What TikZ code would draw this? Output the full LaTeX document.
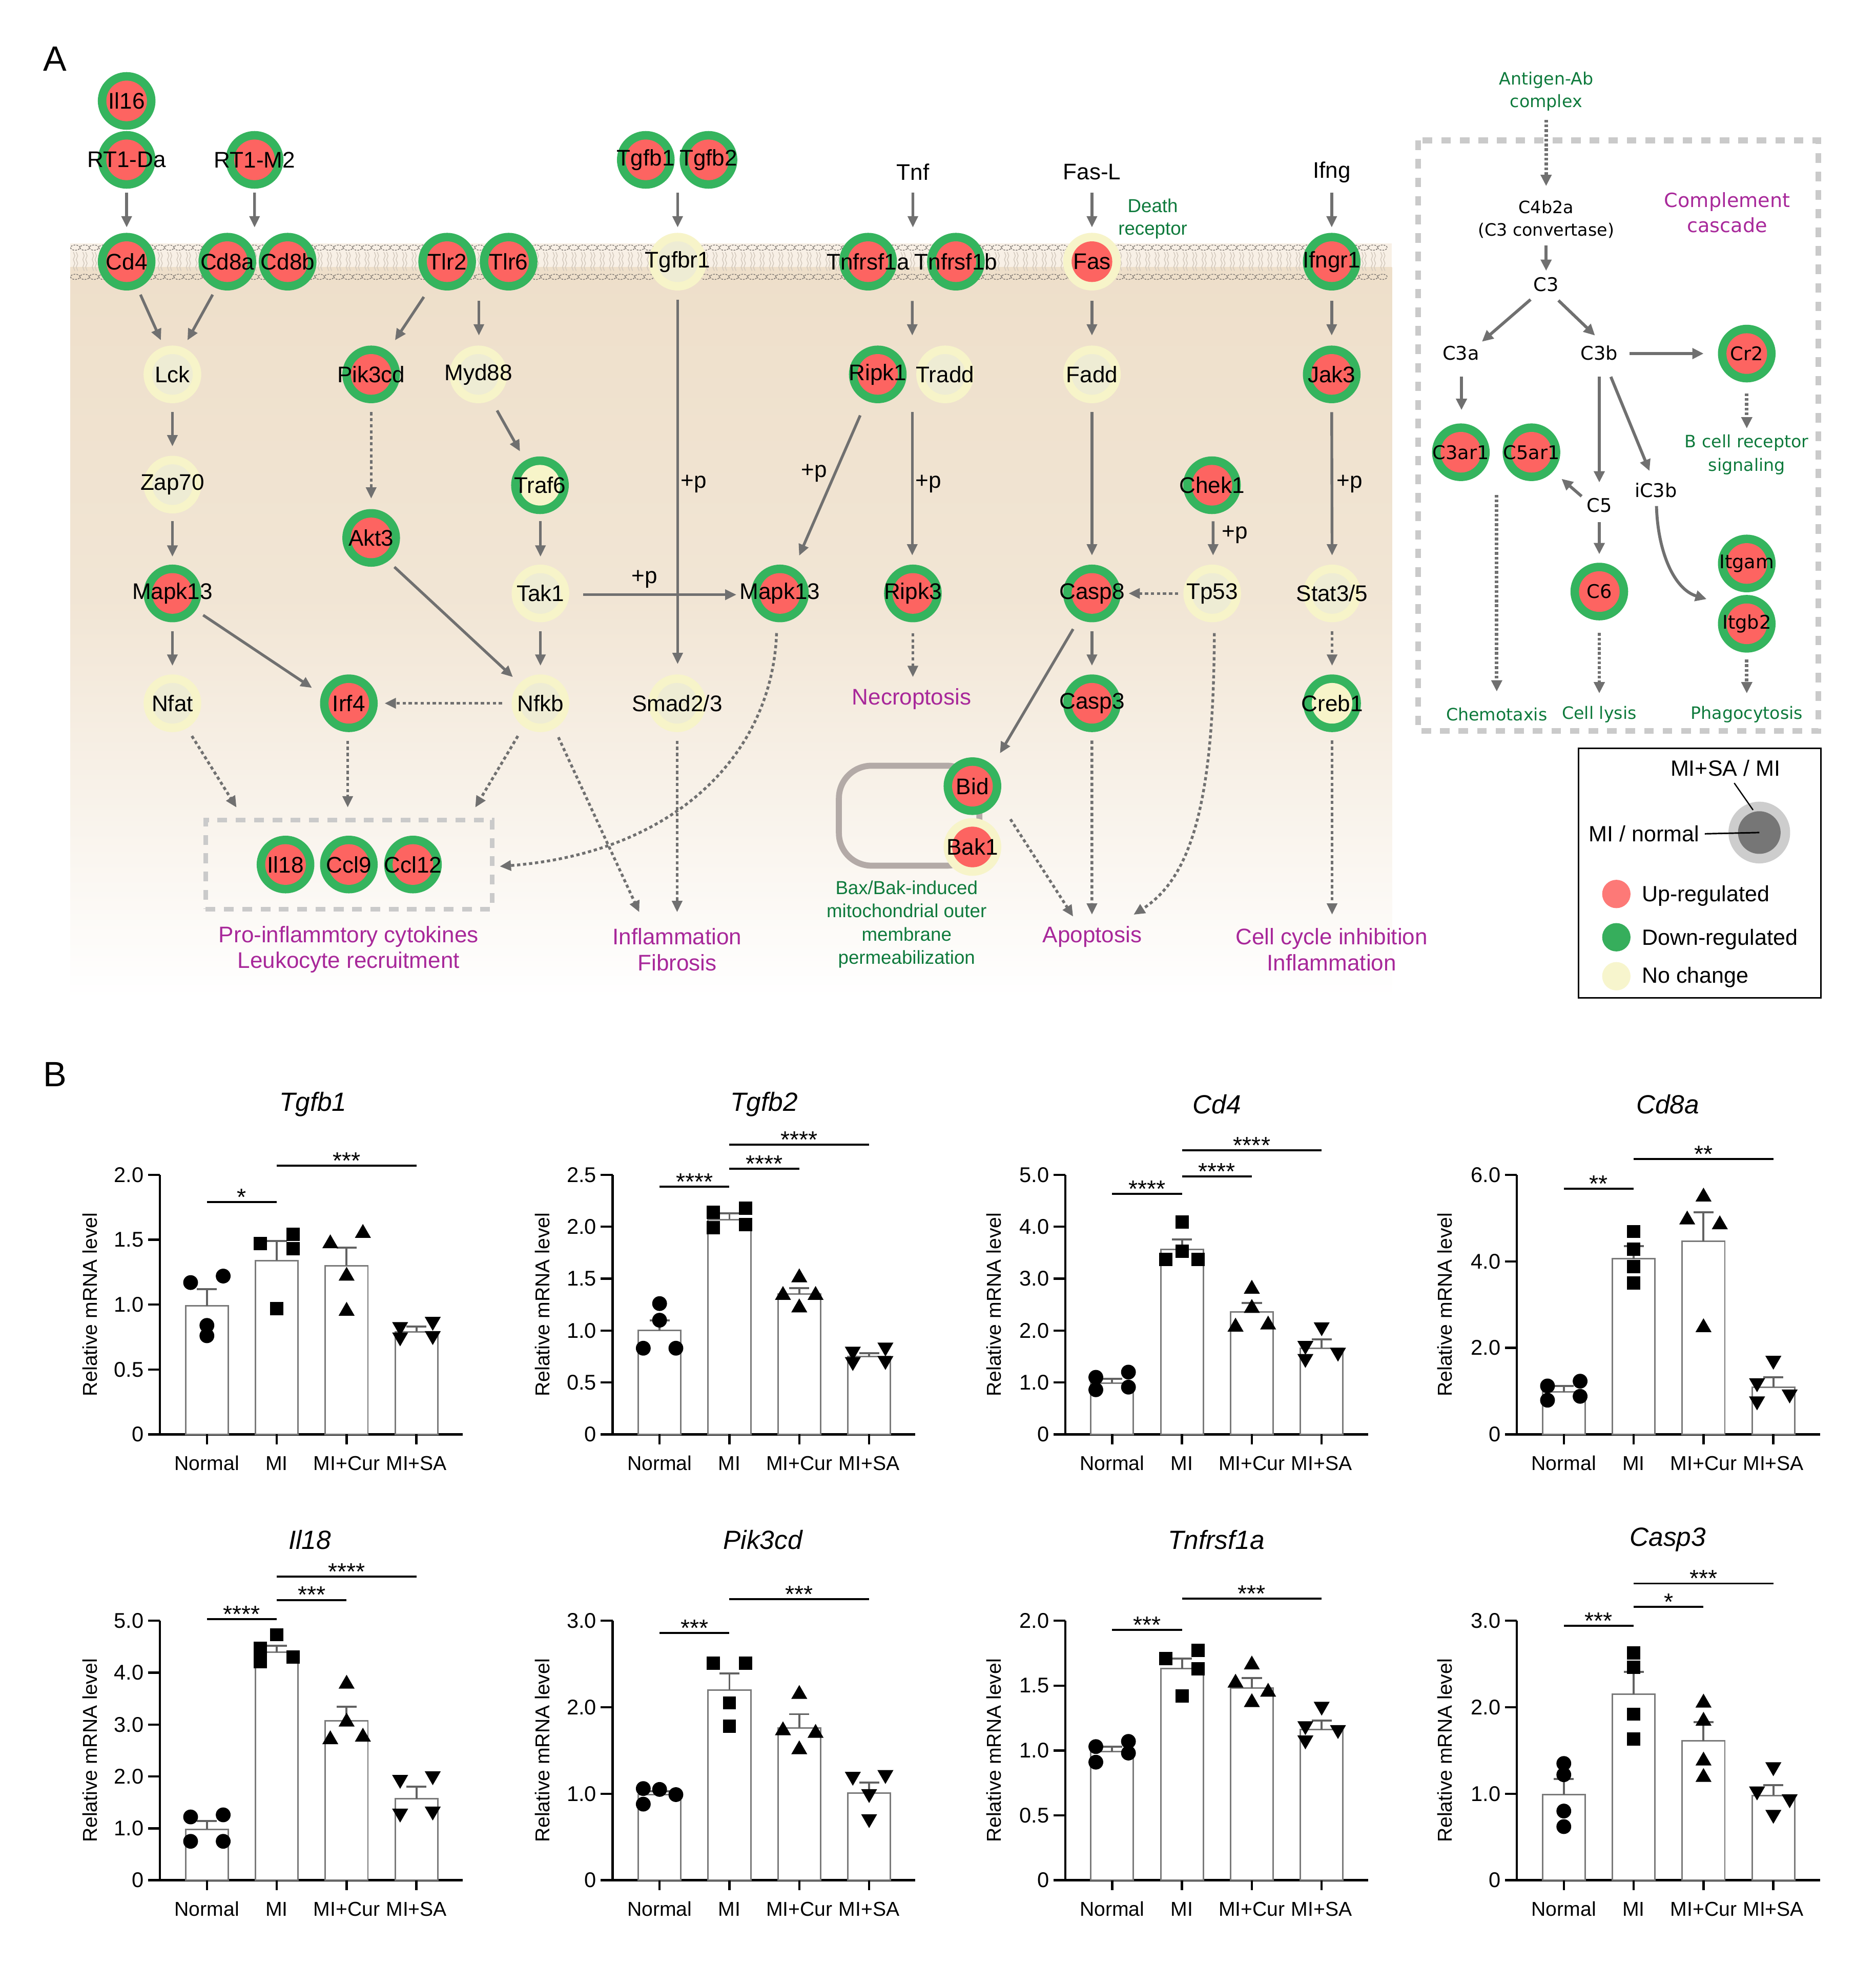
\documentclass[tikz,border=0pt]{standalone}
\usepackage{fontspec}
\setmainfont{Liberation Sans}
\newfontfamily\cfont{DejaVu Sans}
\usetikzlibrary{arrows.meta}

\definecolor{gRed}{HTML}{FD6461}
\definecolor{gGreen}{HTML}{35B45E}
\definecolor{gYel}{HTML}{F7F4C9}
\definecolor{gYelIn}{HTML}{EEECD4}
\definecolor{arrGray}{HTML}{707070}
\definecolor{magT}{HTML}{A8289A}
\definecolor{grnT}{HTML}{0E7A3C}
\definecolor{beige}{HTML}{EEDFCA}
\definecolor{memb}{HTML}{F8F0E6}
\definecolor{lipid}{HTML}{7E7873}
\definecolor{tailc}{HTML}{D3C9BD}
\definecolor{boxGray}{HTML}{CACACA}
\definecolor{mito}{HTML}{B3AAA7}
\definecolor{legRed}{HTML}{FD7977}
\definecolor{legGreen}{HTML}{36AE5C}
\definecolor{legYel}{HTML}{F7F5CD}
\definecolor{legOut}{HTML}{CDCDCD}
\definecolor{legIn}{HTML}{767676}
\definecolor{barGray}{HTML}{7A7A7A}

\newcommand\gtxt[1]{\makebox[0pt]{#1}}
\newcommand\conn[5]{\draw[#1] ([shift={(#3)}]#2.center) -- ([shift={(#5)}]#4.center);}

% chart helpers
\newcommand\chartax[6]{%
  \draw[axisln] (0,0) -- (0,#2);
  \draw[axisln] (0,0) -- (#4,0);
  \foreach \v/\lab [count=\i] in {#3}{%
    \draw[axisln] (-9.5,\v) -- (0,\v);
    \node[ticklab,anchor=east] (#1t\i) at (-#6,\v) {\lab};}
  \node[ylab,rotate=90] (#1y) at (-#5,#2/2) {Relative mRNA level};
}
\newcommand\xcats[5]{%
  \foreach \cx/\tx [count=\i] in {#2/Normal,#3/MI,#4/MI+Cur,#5/MI+SA}{%
    \draw[axisln] (\cx,0) -- ++(0pt,-4pt);
    \node[xlab, yshift=-11.5pt] (#1x\i) at (\cx,0) {\tx};}
}
\newcommand\sig[5]{\draw[sigln] (#2,#4) -- (#3,#4) node[midway, above=-2.2pt, siglab] (#1) {#5};}
\newcommand\bbar[3]{\draw[barln] ({#1-17},0) rectangle ({#1+17},#2);
  \draw[errln] (#1,#2) -- (#1,#3) ({#1-8},#3) -- ({#1+8},#3);}
\newcommand\mC[2]{\fill ({#1},#2) circle (2.95pt);}
\newcommand\mS[2]{\fill ({#1},#2) ++(-2.65pt,-2.65pt) rectangle ++(5.3pt,5.3pt);}
\newcommand\mU[2]{\fill ({#1},#2) ++(0pt,3.7pt) -- ++(-3.2pt,-5.54pt) -- ++(6.4pt,0pt) -- cycle;}
\newcommand\mD[2]{\fill ({#1},#2) ++(0pt,-3.7pt) -- ++(-3.2pt,5.54pt) -- ++(6.4pt,0pt) -- cycle;}
\newcommand\pts[3]{\foreach \dx/\vv in {#3}{#1{#2+(\dx)}{\vv}}}

\begin{document}
\begin{tikzpicture}[x=0.5pt, y=-0.5pt,
  gene/.style 2 args={circle, minimum size=23pt, inner sep=0pt, fill=#2,
    path picture={\fill[#1] (path picture bounding box.center) circle (8.1pt);},
    font=\fontsize{9}{10}\selectfont},
  ru/.style={gene={gRed}{gGreen}},
  ny/.style={gene={gYelIn}{gYel}},
  yg/.style={gene={gYel}{gGreen}},
  ry/.style={gene={gRed}{gYel}},
  cg/.style={ru, font=\cfont\fontsize{7.5}{9}\selectfont},
  arr/.style={draw=arrGray, line width=1.1pt, -{Triangle[length=4.5pt,width=4pt]}},
  darr/.style={arr, dash pattern=on 1.3pt off 1.1pt},
  carr/.style={draw=arrGray, line width=1.2pt, -{Triangle[length=4.5pt,width=4.2pt]}},
  cdarr/.style={carr, line width=1.4pt, dash pattern=on 1.1pt off 0.8pt},
  txt/.style={font=\fontsize{9}{10}\selectfont, inner sep=0pt},
  outc/.style={font=\fontsize{9}{10.3}\selectfont, text=magT, align=center, inner sep=0pt},
  gnote/.style={font=\fontsize{7.5}{9.2}\selectfont, text=grnT, align=center, inner sep=0pt},
  ctxt/.style={font=\cfont\fontsize{6.8}{9.1}\selectfont, align=center, inner sep=0pt},
  cnode/.style={font=\cfont\fontsize{7.5}{9}\selectfont, inner sep=0pt},
  legt/.style={font=\fontsize{8.8}{10}\selectfont, inner sep=0pt},
  axisln/.style={draw=black, line width=0.9pt},
  barln/.style={draw=barGray, line width=0.6pt, fill=white},
  errln/.style={draw=barGray!80!black, line width=0.8pt},
  sigln/.style={draw=black, line width=0.8pt},
  siglab/.style={font=\fontsize{9.5}{10}\selectfont, inner sep=0.5pt},
  ticklab/.style={font=\fontsize{8.5}{10}\selectfont, inner sep=0pt},
  xlab/.style={font=\fontsize{8}{10}\selectfont, inner sep=0pt},
  ylab/.style={font=\fontsize{8}{10}\selectfont, inner sep=0pt},
  ctitle/.style={font=\fontsize{10.5}{12}\selectfont\itshape, inner sep=0pt},
  panel/.style={font=\fontsize{14}{16}\selectfont, inner sep=0pt}
]
\useasboundingbox (0,0) rectangle (1496,1568);
\fill[white] (0,0) rectangle (1496,1568);

% ---------------- Panel A background -----------------
\fill[memb] (56,194) rectangle (1110,213);
\shade[top color=beige, bottom color=beige!80!white] (56,213) rectangle (1110,480);
\shade[top color=beige!80!white, bottom color=white] (56,480) rectangle (1110,797);
\foreach \x in {60,67.5,...,1107}{
  \draw[tailc, line width=0.3pt] ({\x-1.5},201) -- ({\x-0.3},204) -- ({\x-1.5},207) -- ({\x-0.3},210) -- ({\x-1.5},213) -- ({\x-0.3},216);
  \draw[tailc, line width=0.3pt] ({\x+0.8},201) -- ({\x+2},204) -- ({\x+0.8},207) -- ({\x+2},210) -- ({\x+0.8},213) -- ({\x+2},216);
  \draw[lipid, line width=0.3pt, dash pattern=on 0.7pt off 0.45pt] (\x,197.5) ellipse (1.85pt and 1.05pt);
  \draw[lipid, line width=0.3pt, dash pattern=on 0.7pt off 0.45pt] (\x,220.8) ellipse (1.85pt and 1.05pt);
}

\node[panel] (lblA) at (44,47) {A};
\node[panel] (lblB) at (44,857) {B};

% mitochondrion
\draw[mito, line width=2.4pt, rounded corners=13pt] (669,610.7) rectangle (781,690.4);
% cytokine box
\node[draw=boxGray, line width=1.8pt, dash pattern=on 3.9pt off 3.4pt, minimum width=114.3pt, minimum height=35.5pt, inner sep=0pt] (cytobox) at (278.3,689.5) {};

% ---------------- genes -----------------
\node[ru] (il16) at (101,80.5) {\gtxt{Il16}};
\node[ru] (rt1da) at (101,127.5) {\gtxt{RT1-Da}};
\node[ru] (rt1m2) at (203,127.5) {\gtxt{RT1-M2}};
\node[ru] (tgfb1) at (515,127.5) {\gtxt{Tgfb1}};
\node[ru] (tgfb2) at (565,127.5) {\gtxt{Tgfb2}};
\node[txt] (tnf) at (728,137.3) {Tnf};
\node[txt] (fasl) at (870.8,137.3) {Fas-L};
\node[txt] (ifng) at (1062,137.3) {Ifng};
\node[gnote, font=\fontsize{7.5}{9.1}\selectfont] (death) at (919.3,174.5) {Death\\receptor};

\node[ru] (cd4) at (101,208.7) {\gtxt{Cd4}};
\node[ru] (cd8a) at (181.3,208.7) {\gtxt{Cd8a}};
\node[ru] (cd8b) at (229.4,208.7) {\gtxt{Cd8b}};
\node[ru] (tlr2) at (356.6,208.7) {\gtxt{Tlr2}};
\node[ru] (tlr6) at (405.6,208.7) {\gtxt{Tlr6}};
\node[ny] (tgfbr1) at (540.4,208.7) {\gtxt{Tgfbr1}};
\node[ru] (tnfrsf1a) at (692.3,208.7) {\gtxt{Tnfrsf1a}};
\node[ru] (tnfrsf1b) at (762.3,208.7) {\gtxt{Tnfrsf1b}};
\node[ry] (fas) at (870.8,208.7) {\gtxt{Fas}};
\node[ru] (ifngr1) at (1062,208.7) {\gtxt{Ifngr1}};

\node[ny] (lck) at (137.5,298.6) {\gtxt{Lck}};
\node[ru] (pik3cd) at (296,298.6) {\gtxt{Pik3cd}};
\node[ny] (myd88) at (381.5,298.6) {\gtxt{Myd88}};
\node[ru] (ripk1) at (700,298.6) {\gtxt{Ripk1}};
\node[ny] (tradd) at (753.7,298.6) {\gtxt{Tradd}};
\node[ny] (fadd) at (870.8,298.6) {\gtxt{Fadd}};
\node[ru] (jak3) at (1062,298.6) {\gtxt{Jak3}};

\node[ny] (zap70) at (137.5,386.5) {\gtxt{Zap70}};
\node[yg] (traf6) at (430.6,387) {\gtxt{Traf6}};
\node[ru] (chek1) at (966.5,387) {\gtxt{Chek1}};
\node[ru] (akt3) at (296,429) {\gtxt{Akt3}};

\node[ru] (mapk13a) at (137.5,473.3) {\gtxt{Mapk13}};
\node[ny] (tak1) at (431,473.3) {\gtxt{Tak1}};
\node[ru] (mapk13b) at (622,473.3) {\gtxt{Mapk13}};
\node[ru] (ripk3) at (728,473.3) {\gtxt{Ripk3}};
\node[ru] (casp8) at (870.8,473.3) {\gtxt{Casp8}};
\node[ny] (tp53) at (966.7,473.3) {\gtxt{Tp53}};
\node[ny] (stat35) at (1062.3,473.3) {\gtxt{Stat3/5}};

\node[ny] (nfat) at (137.5,560.9) {\gtxt{Nfat}};
\node[ru] (irf4) at (278.2,560.9) {\gtxt{Irf4}};
\node[ny] (nfkb) at (431,560.9) {\gtxt{Nfkb}};
\node[ny] (smad) at (540,560.9) {\gtxt{Smad2/3}};
\node[ru] (casp3) at (870.8,560.9) {\gtxt{Casp3}};
\node[yg] (creb1) at (1062.3,560.9) {\gtxt{Creb1}};

\node[ru] (il18) at (227.7,689.5) {\gtxt{Il18}};
\node[ru] (ccl9) at (278.2,689.5) {\gtxt{Ccl9}};
\node[ru] (ccl12) at (329.3,689.5) {\gtxt{Ccl12}};
\node[ru] (bid) at (775.5,627) {\gtxt{Bid}};
\node[ry] (bak1) at (775.5,675.5) {\gtxt{Bak1}};

\node[outc] (proinf) at (278,757.3) {Pro-inflammtory cytokines\\Leukocyte recruitment};
\node[outc] (inflam) at (540,757.3) {Inflammation\\Fibrosis};
\node[outc] (necro) at (727,557.5) {Necroptosis};
\node[outc] (apop) at (871,747) {Apoptosis};
\node[outc] (cellcyc) at (1062,757.3) {Cell cycle inhibition\\Inflammation};
\node[gnote, font=\fontsize{7.5}{9.25}\selectfont] (baxtxt) at (723,737.2) {Bax/Bak-induced\\mitochondrial outer\\membrane\\permeabilization};

% +p labels
\node[txt] (p1) at (514,462) {+p};
\node[txt] (p2) at (553.3,386) {+p};
\node[txt] (p3) at (649.3,377.5) {+p};
\node[txt] (p4) at (740.5,386) {+p};
\node[txt] (p5) at (1076.3,386) {+p};
\node[txt] (p6) at (984.7,426.4) {+p};

% ---------------- connectors panel A -----------------
\conn{arr}{rt1da}{0,26.1}{cd4}{0,-27.3}
\conn{arr}{rt1m2}{0,26.1}{cd8a}{21.7,-27.3}
\conn{arr}{tgfb1}{25.4,26.1}{tgfbr1}{0,-27.3}
\conn{arr}{tnf}{0,16.3}{tnfrsf1a}{35.7,-27.3}
\conn{arr}{fasl}{0,16.3}{fas}{0,-27.3}
\conn{arr}{ifng}{0,16.3}{ifngr1}{0,-27.3}
\conn{arr}{cd4}{11,26.3}{lck}{-9.2,-27.2}
\conn{arr}{cd8a}{-11.7,26.3}{lck}{12,-27.2}
\conn{arr}{tlr2}{-18.6,28.1}{pik3cd}{19,-27.2}
\conn{arr}{tlr2}{25.3,31.3}{myd88}{0.4,-31}
\conn{arr}{lck}{0,30.1}{zap70}{0,-30.5}
\conn{darr}{pik3cd}{0,30.1}{akt3}{0,-31.3}
\conn{arr}{myd88}{14.9,28.8}{traf6}{-15.9,-27}
\conn{arr}{zap70}{0,29.3}{mapk13a}{0,-29.3}
\conn{arr}{traf6}{0.4,28.8}{tak1}{0,-29.3}
\conn{arr}{chek1}{0.9,28.8}{tp53}{0.7,-30.3}
\conn{arr}{akt3}{18.5,23.2}{nfkb}{-22,-20.9}
\conn{arr}{mapk13a}{24.5,17.3}{irf4}{-29.4,-12.3}
\conn{arr}{mapk13a}{0,30.3}{nfat}{0,-29.9}
\conn{arr}{tak1}{0,30.3}{nfkb}{0,-29.9}
\conn{arr}{tak1}{34,1}{mapk13b}{-34.7,1}
\conn{arr}{tgfbr1}{0,30.2}{smad}{0.4,-31.2}
\conn{arr}{ripk1}{-14,32.7}{mapk13b}{15.3,-30.1}
\conn{arr}{tnfrsf1a}{35.2,31.3}{ripk1}{27.5,-31}
\conn{arr}{tradd}{-26.2,30.1}{ripk3}{-0.5,-30.3}
\conn{arr}{fas}{0,31.3}{fadd}{0,-31}
\conn{arr}{fadd}{0,30.1}{casp8}{0,-30.3}
\conn{arr}{ifngr1}{0,31.3}{jak3}{0,-31}
\conn{arr}{jak3}{0,30.1}{stat35}{0,-30.3}
\conn{arr}{casp8}{0,30.3}{casp3}{0,-29.9}
\conn{arr}{casp8}{-15,28.4}{bid}{21.9,-26.2}
\conn{darr}{tp53}{-27.1,0}{casp8}{29.2,0}
\conn{darr}{stat35}{0,30.3}{creb1}{0,-29.9}
\conn{darr}{ripk3}{0,31.7}{necro}{1,-17.5}
\conn{darr}{nfkb}{-30.6,0}{irf4}{28.5,0}
\conn{darr}{nfat}{15.5,26.1}{cytobox}{-89.7,-45.5}
\conn{darr}{irf4}{-0.9,29.9}{cytobox}{-1,-45.5}
\conn{darr}{nfkb}{-18,26.1}{cytobox}{100.7,-45.5}
\conn{darr}{nfkb}{14.3,27.1}{inflam}{-30.2,-29.8}
\conn{darr}{smad}{0,29.9}{inflam}{0,-29.8}
\draw[darr] ([shift={(-2.7,31.6)}]mapk13b.center) .. controls (616,600) and (540,680) .. ([shift={(120.2,1.5)}]cytobox.center);
\conn{darr}{casp3}{0,29.8}{apop}{-0.2,-17.5}
\conn{darr}{bid}{30.3,26.4}{apop}{-15.2,-16}
\draw[darr] ([shift={(1.7,31.6)}]tp53.center) .. controls (968,640) and (950,700) .. ([shift={(33,-17.5)}]apop.center);
\conn{darr}{creb1}{0,29.8}{cellcyc}{0.3,-27.8}

% ---------------- complement cascade -----------------
\draw[boxGray, line width=2.3pt, dash pattern=on 3.8pt off 3.6pt] (1131,112) rectangle (1450,583);
\node[ctxt, text=grnT] (antigen) at (1233,72.9) {Antigen-Ab\\complex};
\node[ctxt] (c4b2a) at (1233,175) {C4b2a\\(C3 convertase)};
\node[cnode] (c3) at (1233,226.9) {C3};
\node[ctxt, text=magT, font=\cfont\fontsize{7.8}{10.1}\selectfont] (compl) at (1377.4,169.4) {Complement\\cascade};
\node[cnode] (c3a) at (1165,281.5) {C3a};
\node[cnode] (c3b) at (1275.4,281.5) {C3b};
\node[cg] (cr2) at (1393,282) {\gtxt{Cr2}};
\node[ctxt, text=grnT, font=\cfont\fontsize{6.8}{9.3}\selectfont] (bcr) at (1393,362.7) {B cell receptor\\signaling};
\node[cg] (c3ar1) at (1165,360.7) {\gtxt{C3ar1}};
\node[cg] (c5ar1) at (1221.3,360.7) {\gtxt{C5ar1}};
\node[cnode] (ic3b) at (1320.5,391) {iC3b};
\node[cnode] (c5) at (1275.4,403) {C5};
\node[cg] (c6) at (1275.4,471.8) {\gtxt{C6}};
\node[cg] (itgam) at (1393,449.4) {\gtxt{Itgam}};
\node[cg] (itgb2) at (1393,497.5) {\gtxt{Itgb2}};
\node[ctxt, text=grnT] (chemo) at (1193.6,569.7) {Chemotaxis};
\node[ctxt, text=grnT] (lysis) at (1275.4,569.7) {Cell lysis};
\node[ctxt, text=grnT] (phago) at (1393,569.7) {Phagocytosis};

\conn{cdarr}{antigen}{0,22.6}{c4b2a}{0,-26.6}
\conn{carr}{c4b2a}{0,20.9}{c3}{0,-10.9}
\conn{carr}{c3}{-12.4,12}{c3a}{16.8,-9}
\conn{carr}{c3}{9.8,12.7}{c3b}{-3.4,-13.9}
\conn{carr}{c3b}{24.3,0.5}{cr2}{-34.4,0}
\conn{cdarr}{cr2}{0,31.7}{bcr}{0,-21}
\conn{carr}{c3a}{0.5,19}{c3ar1}{0.5,-33.7}
\conn{carr}{c3b}{0,19}{c5}{0,-18.2}
\conn{carr}{c3b}{9.2,19}{ic3b}{-5.1,-15.4}
\conn{carr}{c5}{-14.1,-7.2}{c5ar1}{24,21.2}
\conn{carr}{c5}{0,13.5}{c6}{0,-29.8}
\draw[carr] ([shift={(0.5,12.6)}]ic3b.center) .. controls (1322,440) and (1335,470) .. ([shift={(-32,-19.7)}]itgb2.center);
\conn{cdarr}{c3ar1}{28.6,33.9}{chemo}{0,-18.2}
\conn{cdarr}{c6}{0,33}{lysis}{0,-16.7}
\conn{cdarr}{itgb2}{0,28.5}{phago}{0,-16.7}

% ---------------- legend -----------------
\node[draw=black, line width=0.6pt, minimum width=96.5pt, minimum height=99.5pt, inner sep=0pt] (legbox) at (1355.5,696.5) {};
\node[legt] (legMISA) at (1376,612.7) {MI+SA / MI};
\node[circle, fill=legOut, minimum size=24.6pt, inner sep=0pt] (legring) at (1403,664) {};
\fill[legIn] (legring.center) circle (8.5pt);
\node[legt] (legMIn) at (1311,665) {MI / normal};
\draw[line width=0.5pt] ([shift={(7,11.8)}]legMISA.center) -- ([shift={(-5,-18)}]legring.center);
\draw[line width=0.6pt] ([shift={(48.5,0)}]legMIn.center) -- (legring.center);
\node[circle, fill=legRed, minimum size=11.3pt, inner sep=0pt] (lup) at (1289,713) {};
\node[circle, fill=legGreen, minimum size=11.3pt, inner sep=0pt] (ldown) at (1289,747.5) {};
\node[circle, fill=legYel, minimum size=11.3pt, inner sep=0pt] (lnc) at (1289,778.6) {};
\node[legt, anchor=west] (lupt) at (1309,714.5) {Up-regulated};
\node[legt, anchor=west] (ldownt) at (1309,749) {Down-regulated};
\node[legt, anchor=west] (lnct) at (1309,779.5) {No change};

% ---------------- Panel B charts -----------------
\node[ctitle] (ti1) at (249.6,880.6) {Tgfb1};
\node[ctitle] (ti2) at (609.3,880.6) {Tgfb2};
\node[ctitle] (ti3) at (970.5,880.6) {Cd4};
\node[ctitle] (ti4) at (1330,880.6) {Cd8a};
\node[ctitle] (ti5) at (247,1228) {Il18};
\node[ctitle] (ti6) at (608.3,1228) {Pik3cd};
\node[ctitle] (ti7) at (970,1228) {Tnfrsf1a};
\node[ctitle] (ti8) at (1330,1228) {Casp3};

% Chart 1 Tgfb1
\begin{scope}[shift={(127.6,1144)}, y=51.75pt]
\chartax{ca}{2.0}{0/0,0.5/0.5,1/1.0,1.5/1.5,2/2.0}{241.4}{56}{12.5}
\bbar{37.4}{0.99}{1.12}\pts{\mC}{37.4}{-13/1.17,13/1.22,0/0.84,0/0.76}
\bbar{93.1}{1.34}{1.49}\pts{\mS}{93.1}{-13/1.47,13/1.54,13/1.43,0/0.97}
\bbar{148.8}{1.30}{1.44}\pts{\mU}{148.8}{-13/1.47,13/1.55,0/1.22,0/0.95}
\bbar{204.5}{0.79}{0.83}\pts{\mD}{204.5}{-13/0.83,13/0.87,-13/0.75,13/0.76}
\xcats{ca}{37.4}{93.1}{148.8}{204.5}
\sig{cas1}{37.4}{93.1}{1.79}{*}
\sig{cas2}{93.1}{204.5}{2.07}{***}
\end{scope}

% Chart 2 Tgfb2
\begin{scope}[shift={(488.6,1144)}, y=41.4pt]
\chartax{cb}{2.5}{0/0,0.5/0.5,1/1.0,1.5/1.5,2/2.0,2.5/2.5}{241.4}{56}{12.5}
\bbar{37.4}{1.0}{1.10}\pts{\mC}{37.4}{0/1.26,0/1.10,-13/0.83,13/0.83}
\bbar{93.1}{2.07}{2.13}\pts{\mS}{93.1}{-13/2.14,13/2.18,13/2.02,-13/1.99}
\bbar{148.8}{1.35}{1.41}\pts{\mU}{148.8}{0/1.51,-13/1.34,13/1.34,0/1.22}
\bbar{204.5}{0.75}{0.78}\pts{\mD}{204.5}{-13/0.80,13/0.84,-13/0.70,13/0.71}
\xcats{cb}{37.4}{93.1}{148.8}{204.5}
\sig{cbs1}{37.4}{93.1}{2.385}{****}
\sig{cbs2}{93.1}{148.8}{2.56}{****}
\sig{cbs3}{93.1}{204.5}{2.79}{****}
\end{scope}

% Chart 3 Cd4
\begin{scope}[shift={(849.5,1144)}, y=20.7pt]
\chartax{cc}{5.0}{0/0,1/1.0,2/2.0,3/3.0,4/4.0,5/5.0}{241.4}{57}{12.5}
\bbar{37.4}{0.99}{1.07}\pts{\mC}{37.4}{-13/1.10,13/1.20,-13/0.86,13/0.91}
\bbar{93.1}{3.56}{3.76}\pts{\mS}{93.1}{0/4.09,0/3.53,-13/3.37,13/3.37}
\bbar{148.8}{2.36}{2.53}\pts{\mU}{148.8}{0/2.80,0/2.43,-13/2.07,13/2.11}
\bbar{204.5}{1.66}{1.83}\pts{\mD}{204.5}{0/2.07,-13/1.71,-13/1.46,13/1.58}
\xcats{cc}{37.4}{93.1}{148.8}{204.5}
\sig{ccs1}{37.4}{93.1}{4.63}{****}
\sig{ccs2}{93.1}{148.8}{4.97}{****}
\sig{ccs3}{93.1}{204.5}{5.47}{****}
\end{scope}

% Chart 4 Cd8a
\begin{scope}[shift={(1209.7,1144)}, y=17.25pt]
\chartax{cd}{6.0}{0/0,2/2.0,4/4.0,6/6.0}{242}{57.7}{12.5}
\bbar{37.4}{0.98}{1.12}\pts{\mC}{37.4}{-13/1.12,13/1.23,-13/0.79,13/0.88}
\bbar{93.1}{4.06}{4.35}\pts{\mS}{93.1}{0/4.69,0/4.28,0/3.88,0/3.50}
\bbar{148.8}{4.46}{5.13}\pts{\mU}{148.8}{0/5.49,-13/4.96,13/4.85,0/2.47}
\bbar{204.5}{1.09}{1.32}\pts{\mD}{204.5}{0/1.71,-13/1.19,-13/0.77,13/0.93}
\xcats{cd}{37.4}{93.1}{148.8}{204.5}
\sig{cds1}{37.4}{93.1}{5.68}{**}
\sig{cds2}{93.1}{204.5}{6.37}{**}
\end{scope}

% Chart 5 Il18
\begin{scope}[shift={(127.6,1499.6)}, y=20.7pt]
\chartax{ce}{5.0}{0/0,1/1.0,2/2.0,3/3.0,4/4.0,5/5.0}{241.4}{56}{12.5}
\bbar{37.4}{0.98}{1.14}\pts{\mC}{37.4}{-13/1.22,13/1.26,-13/0.75,13/0.75}
\bbar{93.1}{4.39}{4.52}\pts{\mS}{93.1}{0/4.73,-13/4.47,-13/4.21,13/4.30}
\bbar{148.8}{3.07}{3.34}\pts{\mU}{148.8}{0/3.78,0/3.05,-13/2.71,13/2.76}
\bbar{204.5}{1.57}{1.80}\pts{\mD}{204.5}{-13/1.94,13/2.01,-13/1.29,13/1.33}
\xcats{ce}{37.4}{93.1}{148.8}{204.5}
\sig{ces1}{37.4}{93.1}{5.03}{****}
\sig{ces2}{93.1}{148.8}{5.40}{***}
\sig{ces3}{93.1}{204.5}{5.85}{****}
\end{scope}

% Chart 6 Pik3cd
\begin{scope}[shift={(488.6,1499.6)}, y=34.5pt]
\chartax{cf}{3.0}{0/0,1/1.0,2/2.0,3/3.0}{241.4}{56}{12.5}
\bbar{37.4}{0.99}{1.03}\pts{\mC}{37.4}{-13/1.06,0/1.05,13/0.99,-13/0.88}
\bbar{93.1}{2.20}{2.39}\pts{\mS}{93.1}{-13/2.51,13/2.51,0/2.05,0/1.78}
\bbar{148.8}{1.76}{1.92}\pts{\mU}{148.8}{0/2.15,-13/1.73,13/1.70,0/1.51}
\bbar{204.5}{1.01}{1.13}\pts{\mD}{204.5}{-13/1.20,13/1.22,0/1.00,0/0.71}
\xcats{cf}{37.4}{93.1}{148.8}{204.5}
\sig{cfs1}{37.4}{93.1}{2.86}{***}
\sig{cfs2}{93.1}{204.5}{3.25}{***}
\end{scope}

% Chart 7 Tnfrsf1a
\begin{scope}[shift={(849.5,1499.6)}, y=51.75pt]
\chartax{cg}{2.0}{0/0,0.5/0.5,1/1.0,1.5/1.5,2/2.0}{241.4}{57}{12.5}
\bbar{37.4}{0.99}{1.03}\pts{\mC}{37.4}{-13/1.03,13/1.07,-13/0.91,13/0.98}
\bbar{93.1}{1.63}{1.71}\pts{\mS}{93.1}{-13/1.71,13/1.77,13/1.63,0/1.42}
\bbar{148.8}{1.48}{1.56}\pts{\mU}{148.8}{0/1.66,-13/1.52,13/1.45,0/1.37}
\bbar{204.5}{1.16}{1.23}\pts{\mD}{204.5}{0/1.34,-13/1.19,13/1.16,-13/1.08}
\xcats{cg}{37.4}{93.1}{148.8}{204.5}
\sig{cgs1}{37.4}{93.1}{1.93}{***}
\sig{cgs2}{93.1}{204.5}{2.17}{***}
\end{scope}

% Chart 8 Casp3
\begin{scope}[shift={(1209.7,1499.6)}, y=34.5pt]
\chartax{ch}{3.0}{0/0,1/1.0,2/2.0,3/3.0}{242}{57.7}{12.5}
\bbar{37.4}{0.99}{1.17}\pts{\mC}{37.4}{0/1.35,0/1.22,0/0.80,0/0.62}
\bbar{93.1}{2.15}{2.41}\pts{\mS}{93.1}{0/2.63,0/2.46,0/1.92,0/1.63}
\bbar{148.8}{1.61}{1.83}\pts{\mU}{148.8}{0/2.05,0/1.84,0/1.38,0/1.19}
\bbar{204.5}{0.98}{1.10}\pts{\mD}{204.5}{0/1.31,-13/1.03,13/0.94,0/0.76}
\xcats{ch}{37.4}{93.1}{148.8}{204.5}
\sig{chs1}{37.4}{93.1}{2.94}{***}
\sig{chs2}{93.1}{148.8}{3.16}{*}
\sig{chs3}{93.1}{204.5}{3.43}{***}
\end{scope}
\end{tikzpicture}
\end{document}
